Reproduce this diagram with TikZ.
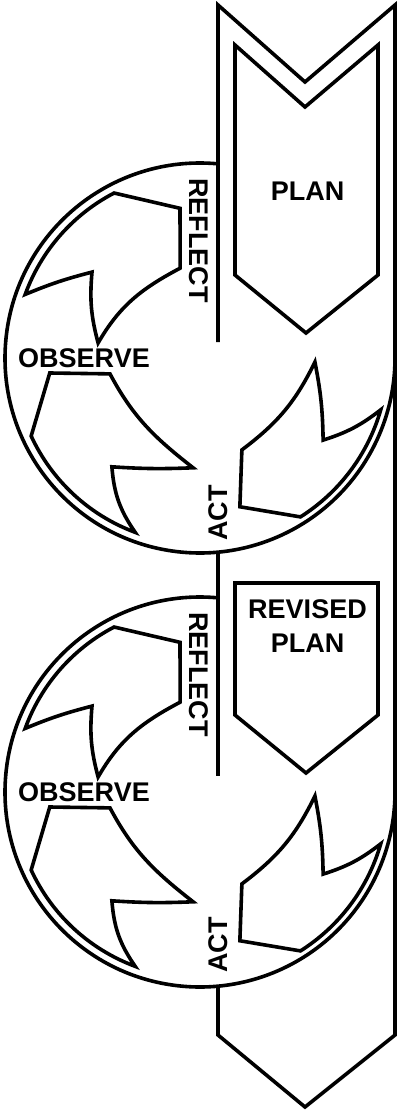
\documentclass[tikz,border=0pt]{standalone}
\usepackage{fontspec}
\setmainfont{Liberation Sans}
\begin{document}
\begin{tikzpicture}[x=1pt,y=1pt,
  outline/.style={draw=black, line width=3.6pt, line join=miter, miter limit=20},
  lbl/.style={font=\fontsize{27}{34}\selectfont\bfseries, inner sep=0pt, align=center}]
\useasboundingbox (0,0) rectangle (398,-1111);

% big band arrow
\draw[outline] (218,-342) -- (218,-5) -- (305,-82) -- (395,-5) -- (395,-1035)
  -- (305,-1107) -- (218,-1035) -- (218,-986);
\draw[outline] (218,-552) -- (218,-776);

% plan arrows
\draw[outline] (235,-45) -- (305,-107) -- (378,-45) -- (378,-275) -- (306,-333) -- (235,-275) -- cycle;
\draw[outline] (235,-583) -- (378,-583) -- (378,-715) -- (306,-773) -- (235,-715) -- cycle;

\node[lbl] (plan) at (307.5,-191) {PLAN};
\node[lbl] (revplan) at (307.5,-626) {REVISED\\PLAN};

\foreach \cy/\n/\ay in {-358/1/-513, -792/2/-945} {
  \begin{scope}[shift={(200,\cy)}]
    % cycle circle
    \draw[outline] (84.7:195pt) arc[start angle=84.7, end angle=360, radius=195pt];
    % reflect arrow
    \draw[outline] (160:186pt) arc[start angle=160, end angle=117.5, radius=186pt]
      -- (97.6:151pt) -- (102.5:92pt) to[out=208,in=60] (171.6:103pt)
      to[bend left=10] (141.5:138pt) to[bend right=4] cycle;
    % observe arrow
    \draw[outline] (249.6:186pt) arc[start angle=249.6, end angle=204.8, radius=186pt]
      -- (185.7:151pt) -- (190:91.4pt) to[out=298,in=142] (266.4:110pt)
      to[bend left=3] (231:140pt) to[bend right=15] cycle;
    % act arrow
    \draw[outline] (344:188pt) arc[start angle=344, end angle=302.3, radius=188pt]
      -- (285:154pt) -- (294.5:101pt) to[out=37,in=244] (358:115pt)
      to[bend left=5] (326.3:148pt) to[bend right=10] cycle;
  \end{scope}
  \node[lbl, rotate=-90] (reflect\n) at (199,\cy+117.5) {REFLECT};
  \node[lbl] (observe\n) at (84,\cy) {OBSERVE};
  \node[lbl, rotate=90] (act\n) at (218.5,\ay) {ACT};
}
\end{tikzpicture}
\end{document}
